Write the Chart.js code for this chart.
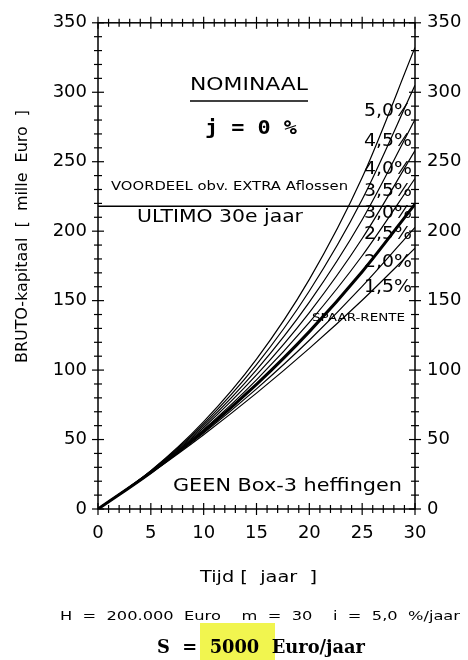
<!DOCTYPE html>
<html>
<head>
<meta charset="utf-8">
<script src="https://cdn.jsdelivr.net/npm/chart.js@4"></script>
<style>
  body { margin: 0; background: #fff; }
  canvas { display: block; }
</style>
</head>
<body>
<canvas id="myChart" width="468" height="660"></canvas>
<script>
// years and capital (x 1000 Euro), S = 5000 Euro/jaar
const years = [0, 5, 10, 15, 20, 25, 30];
const rate50 = [0, 27.6, 62.9, 107.9, 165.3, 238.6, 332.2];
const rate45 = [0, 27.4, 61.4, 103.9, 156.9, 222.8, 305.0];
const rate40 = [0, 27.1, 60.0, 100.1, 148.9, 208.2, 280.4];
const rate35 = [0, 26.8, 58.7, 96.5, 141.4, 194.7, 258.1];
const rate30 = [0, 26.5, 57.3, 93.0, 134.4, 182.3, 237.9];
const rate25 = [0, 26.3, 56.0, 89.7, 127.7, 170.8, 219.5]; // spaar-rente
const rate20 = [0, 26.0, 54.7, 86.5, 121.5, 160.2, 202.8];
const rate15 = [0, 25.8, 53.5, 83.4, 115.6, 150.3, 187.7];
const ultimo = 218;
const rateLabels = ['5,0%', '4,5%', '4,0%', '3,5%', '3,0%', '2,5%', '2,0%', '1,5%'];
const yTicks = [0, 50, 100, 150, 200, 250, 300, 350];
const xTicks = [0, 5, 10, 15, 20, 25, 30];

const FONT = 'DejaVu Sans';

function pts(vals) {
    return years.map((yr, i) => ({x: yr, y: vals[i]}));
}

function curve(vals, width) {
    return {
        data: pts(vals),
        borderColor: '#000',
        borderWidth: width,
        pointRadius: 0,
        cubicInterpolationMode: 'monotone',
        fill: false
    };
}

// draw text squeezed/stretched to a given width
function fitText(ctx, text, left, cy, width, font) {
    ctx.save();
    ctx.font = font;
    const w = ctx.measureText(text).width;
    ctx.translate(left, cy);
    ctx.scale(width / w, 1);
    ctx.textAlign = 'left';
    ctx.textBaseline = 'middle';
    ctx.fillStyle = '#000';
    ctx.fillText(text, 0, 0);
    ctx.restore();
}

function seg(ctx, x1, y1, x2, y2) {
    ctx.beginPath();
    ctx.moveTo(x1, y1);
    ctx.lineTo(x2, y2);
    ctx.stroke();
}

const frame = {
    id: 'frame',
    afterDraw(chart) {
        const {ctx, chartArea: a, scales: {x, y}} = chart;
        ctx.save();
        ctx.strokeStyle = '#000';
        ctx.lineWidth = 1.5;
        ctx.strokeRect(a.left, a.top, a.right - a.left, a.bottom - a.top);
        ctx.lineWidth = 1.2;
        for (let v = 0; v <= 350; v += 10) {
            const py = y.getPixelForValue(v);
            const len = v % 50 === 0 ? 6 : 4;
            seg(ctx, a.left - len, py, a.left + len, py);
            seg(ctx, a.right - len, py, a.right + len, py);
        }
        for (let v = 0; v <= 30; v += 1) {
            const px = x.getPixelForValue(v);
            const len = v % 5 === 0 ? 6 : 4;
            seg(ctx, px, a.bottom - len, px, a.bottom + len);
            seg(ctx, px, a.top - len, px, a.top + len);
        }
        ctx.restore();
    }
};

const texts = {
    id: 'texts',
    beforeDatasetsDraw(chart) {
        const ctx = chart.ctx;
        // yellow marker behind the 5000
        ctx.save();
        ctx.fillStyle = 'rgba(240, 244, 60, 0.9)';
        ctx.fillRect(200, 623, 75, 37);
        ctx.restore();
    },
    afterDraw(chart) {
        const ctx = chart.ctx;
        fitText(ctx, 'NOMINAAL', 190, 86, 118, '17px ' + FONT);
        ctx.save();
        ctx.lineWidth = 1.5;
        seg(ctx, 190, 101, 308, 101);
        ctx.restore();
        fitText(ctx, 'j = 0 %', 205, 129, 92, 'bold 20px "DejaVu Sans Mono"');
        fitText(ctx, 'VOORDEEL obv. EXTRA Aflossen', 111, 187, 237, '12px ' + FONT);
        fitText(ctx, 'ULTIMO 30e jaar', 137, 218, 166, '17px ' + FONT);
        fitText(ctx, 'GEEN Box-3 heffingen', 173, 487, 229, '17px ' + FONT);

        const labelY = [112, 142, 170, 192, 214, 235, 263, 288];
        rateLabels.forEach((t, i) => fitText(ctx, t, 364, labelY[i], 48, '17px ' + FONT));
        fitText(ctx, 'SPAAR-RENTE', 312, 318, 93, '11px ' + FONT);

        fitText(ctx, 'Tijd [  jaar  ]', 200, 578, 117, '15px ' + FONT);
        fitText(ctx, 'H  =  200.000  Euro    m  =  30    i  =  5,0  %/jaar', 60, 617, 400, '13px ' + FONT);
        fitText(ctx, 'S  =  5000  Euro/jaar', 157, 648, 208, 'bold 19px "DejaVu Serif"');

        ctx.save();
        ctx.translate(23, 363);
        ctx.rotate(-Math.PI / 2);
        fitText(ctx, 'BRUTO-kapitaal  [  mille  Euro  ]', 0, 0, 253, '15px ' + FONT);
        ctx.restore();
    }
};

function setup() {
    const ctx = document.getElementById('myChart').getContext('2d');
    const tickFont = {family: FONT, size: 18};
    new Chart(ctx, {
        type: 'line',
        data: {
            datasets: [
                curve(rate50, 1.2),
                curve(rate45, 1.2),
                curve(rate40, 1.2),
                curve(rate35, 1.2),
                curve(rate30, 1.2),
                curve(rate25, 3),
                curve(rate20, 1.2),
                curve(rate15, 1.2),
                {
                    data: [{x: 0, y: ultimo}, {x: 30, y: ultimo}],
                    borderColor: '#000',
                    borderWidth: 1.5,
                    pointRadius: 0
                }
            ]
        },
        options: {
            responsive: false,
            animation: false,
            layout: {padding: {top: 16, left: 0, right: 0, bottom: 0}},
            plugins: {legend: {display: false}, tooltip: {enabled: false}},
            scales: {
                x: {
                    type: 'linear',
                    min: 0,
                    max: 30,
                    afterBuildTicks: s => { s.ticks = xTicks.map(v => ({value: v})); },
                    ticks: {font: tickFont, color: '#000', padding: 14, maxRotation: 0},
                    grid: {display: false, drawTicks: false},
                    border: {display: false},
                    afterFit: s => { s.height = 151; }
                },
                y: {
                    type: 'linear',
                    position: 'left',
                    min: 0,
                    max: 350,
                    afterBuildTicks: s => { s.ticks = yTicks.map(v => ({value: v})); },
                    ticks: {font: tickFont, color: '#000', padding: 11},
                    grid: {display: false, drawTicks: false},
                    border: {display: false},
                    afterFit: s => { s.width = 98; }
                },
                y2: {
                    type: 'linear',
                    position: 'right',
                    min: 0,
                    max: 350,
                    afterBuildTicks: s => { s.ticks = yTicks.map(v => ({value: v})); },
                    ticks: {font: tickFont, color: '#000', padding: 12},
                    grid: {display: false, drawTicks: false},
                    border: {display: false},
                    afterFit: s => { s.width = 53; }
                }
            }
        },
        plugins: [frame, texts]
    });
}

window.addEventListener('load', setup);
</script>
</body>
</html>
